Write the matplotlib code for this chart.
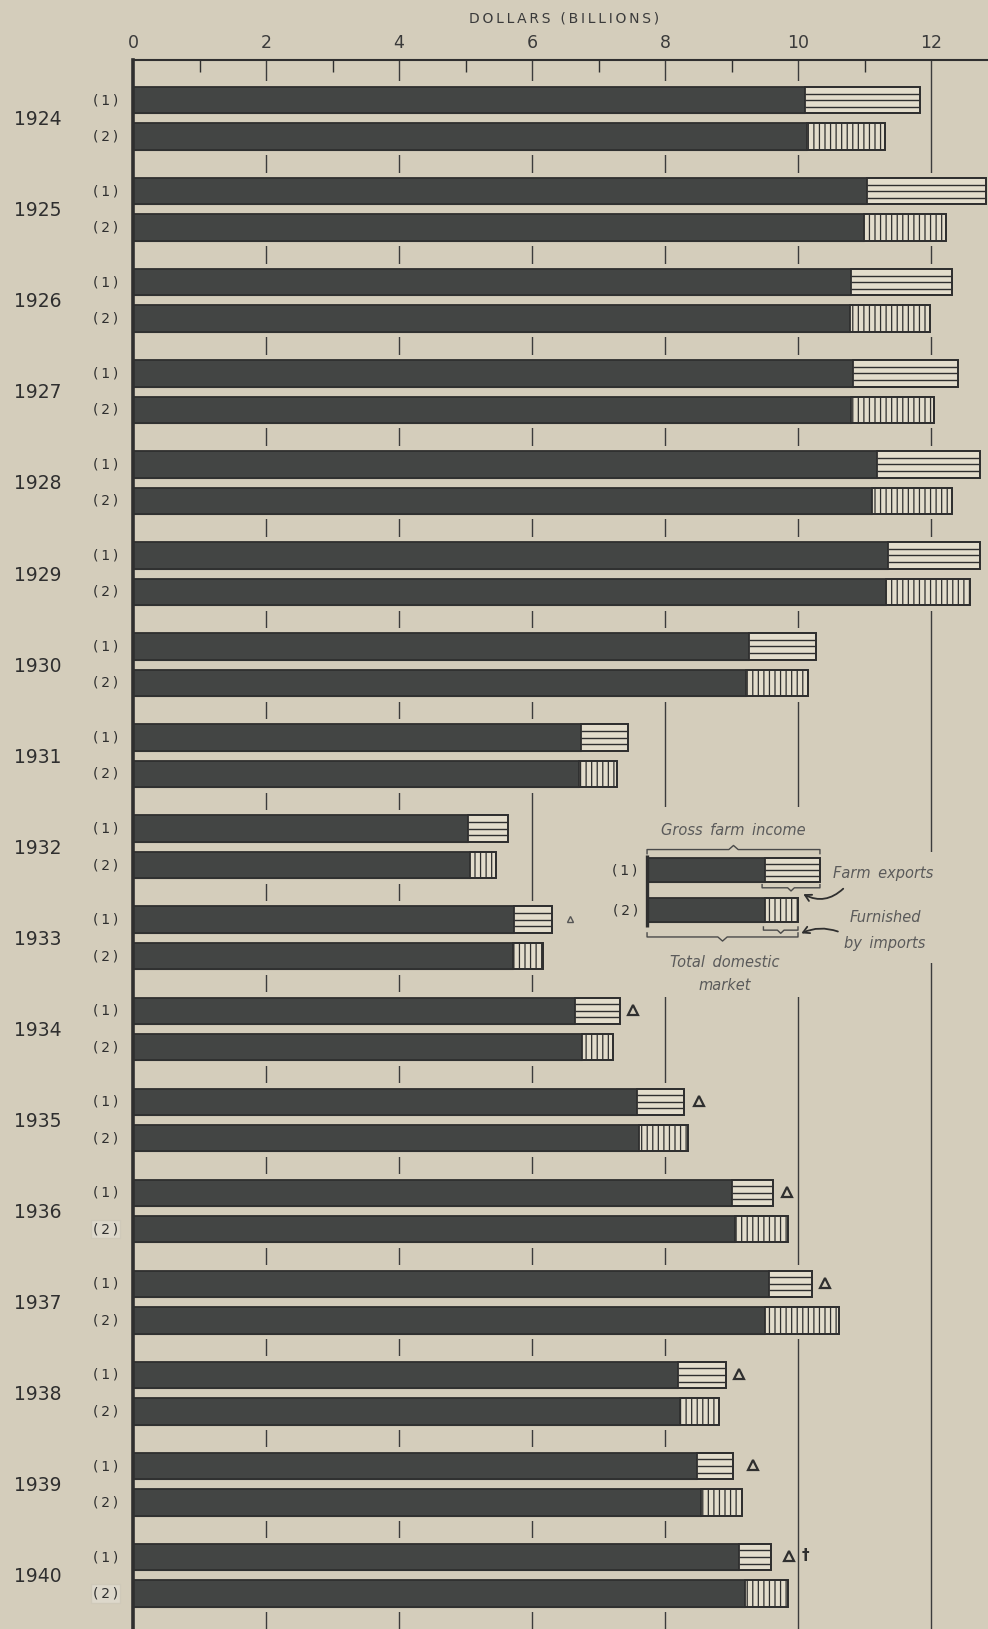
import matplotlib
matplotlib.use("Agg")
import matplotlib.pyplot as plt
from matplotlib.patches import Rectangle

# ---------------- data (billions of dollars) ----------------
years = ['1924', '1925', '1926', '1927', '1928', '1929', '1930', '1931', '1932',
         '1933', '1934', '1935', '1936', '1937', '1938', '1939', '1940']
# (1) gross farm income: domestic-consumed part + farm exports
dom_1 = [10.10, 11.04, 10.79, 10.83, 11.19, 11.35, 9.26, 6.73, 5.04,
         5.73, 6.64, 7.58, 9.01, 9.57, 8.19, 8.48, 9.12]
gross_1 = [11.84, 12.82, 12.32, 12.41, 12.74, 12.74, 10.27, 7.44, 5.64,
           6.30, 7.33, 8.28, 9.62, 10.21, 8.92, 9.02, 9.60]
# (2) total domestic market: domestic-produced part + furnished by imports
dom_2 = [10.13, 10.99, 10.78, 10.80, 11.11, 11.33, 9.22, 6.71, 5.07,
         5.71, 6.75, 7.61, 9.05, 9.51, 8.22, 8.54, 9.20]
total_2 = [11.31, 12.23, 11.99, 12.04, 12.31, 12.59, 10.15, 7.28, 5.46,
           6.17, 7.22, 8.35, 9.85, 10.62, 8.81, 9.16, 9.85]

# footnote markers on (1) bars
tri_years = ['1933', '1934', '1935', '1936', '1937', '1938', '1939', '1940']
tri_x = [6.57, 7.52, 8.51, 9.83, 10.41, 9.11, 9.32, 9.86]
dagger_year = '1940'
dagger_x = 10.11
boxed_labels = ['1936', '1940']

xticks_major = [0, 2, 4, 6, 8, 10, 12]
xticks_minor = [1, 3, 5, 7, 9, 11]

# legend example bar
leg_start, leg_dark, leg_gross, leg_total = 7.73, 9.50, 10.33, 10.00

# ---------------- style ----------------
BG = '#d4cdbb'
DARK = '#434544'
LIGHT = '#e3ddcc'
INK = '#2f2f2f'
GRAY = '#5a5a5a'
plt.rcParams['font.family'] = ['DejaVu Sans']
plt.rcParams['hatch.linewidth'] = 0.9
plt.rcParams['hatch.color'] = INK

W, Hpx = 988, 1629
fig = plt.figure(figsize=(W / 100, Hpx / 100), dpi=100)
fig.patch.set_facecolor(BG)
ax = fig.add_axes([133 / W, 0, 1 - 133 / W, 1 - 60 / Hpx])
ax.set_facecolor(BG)
ax.set_xlim(0, (W - 133) / 66.5)
ax.set_ylim(16.59, -0.641)

for s in ['right', 'bottom']:
    ax.spines[s].set_visible(False)
ax.spines['top'].set_linewidth(1.5)
ax.spines['top'].set_color(INK)
ax.spines['left'].set_linewidth(2.6)
ax.spines['left'].set_color(INK)

ax.xaxis.tick_top()
ax.set_xticks(xticks_major)
ax.set_xticklabels([str(v) for v in xticks_major])
ax.set_xticks(xticks_minor, minor=True)
ax.tick_params(axis='x', which='major', length=0, pad=6, labelsize=12.5, labelcolor='#3a3a3a')
ax.tick_params(axis='x', which='minor', direction='in', length=8.6, width=1.0, color=INK)
ax.set_yticks([])

# gridlines at even values
for v in xticks_major[1:]:
    ax.axvline(v, color='#3c3c3c', lw=1.0, zorder=0.5)

BH = 0.29
OFF = 0.2
PADY = 0.06
PADX = 0.05


def draw_bar(yc, x0, dark, tot, kind, h=BH, halo=True, z=2):
    if halo:
        ax.add_patch(Rectangle((x0, yc - h / 2 - PADY), tot - x0 + PADX, h + 2 * PADY,
                               facecolor=BG, edgecolor='none', zorder=1))
    ax.barh(yc, dark - x0, left=x0, height=h, color=DARK, edgecolor=DARK,
            linewidth=0.8, zorder=z)
    if kind == 'imp':
        ax.barh(yc, tot - dark, left=dark, height=h, facecolor=LIGHT, edgecolor=INK,
                hatch='|||', linewidth=1.3, zorder=z)
    else:
        ax.barh(yc, tot - dark, left=dark, height=h, facecolor=LIGHT, edgecolor=INK,
                linewidth=1.3, zorder=z)
        for k in (1, 2, 3):
            yy = yc - h / 2 + k * h / 4
            ax.plot([dark, tot], [yy, yy], color=INK, lw=1.0, zorder=z + 1,
                    solid_capstyle='butt')
    ax.add_patch(Rectangle((x0, yc - h / 2), tot - x0, h, facecolor='none',
                           edgecolor=INK, lw=1.3, zorder=z + 1))


lab_kw = dict(ha='center', va='center', clip_on=False, zorder=5)
for i, yr in enumerate(years):
    y1, y2 = i - OFF, i + OFF
    draw_bar(y1, 0, dom_1[i], gross_1[i], 'exp')
    draw_bar(y2, 0, dom_2[i], total_2[i], 'imp')
    ax.text(-1.43, i + 0.015, yr, fontsize=13.5, color=INK, **lab_kw)
    ax.text(-0.41, y1, '(\u20091\u2009)', fontsize=10, color=INK, **lab_kw)
    if yr in boxed_labels:
        ax.text(-0.41, y2, '(\u20092\u2009)', fontsize=10, color=INK,
                bbox=dict(facecolor='#ddd8cb', edgecolor='#cfc9b9', pad=1.5), **lab_kw)
    else:
        ax.text(-0.41, y2, '(\u20092\u2009)', fontsize=10, color=INK, **lab_kw)

for yr, tx in zip(tri_years, tri_x):
    i = years.index(yr)
    small = (yr == '1933')
    ax.plot(tx, i - OFF - 0.01, marker='^', markersize=5 if small else 7.5,
            mfc='none', mec='#555555' if small else INK, mew=1.0 if small else 1.6,
            zorder=5, clip_on=False)
i40 = years.index(dagger_year)
ax.text(dagger_x, i40 - OFF - 0.02, '\u2020', fontsize=11, fontweight='bold',
        color=INK, ha='center', va='center', zorder=5)

# ---------------- legend inset ----------------
# mask gridlines behind the legend
ax.add_patch(Rectangle((7.2, 7.56), 3.8, 2.09, facecolor=BG, edgecolor='none', zorder=1.5))
ax.add_patch(Rectangle((11.0, 8.06), 1.3, 1.22, facecolor=BG, edgecolor='none', zorder=1.5))

LH = 0.27
ly1, ly2 = 8.256, 8.695
draw_bar(ly1, leg_start, leg_dark, leg_gross, 'exp', h=LH, halo=False, z=3)
draw_bar(ly2, leg_start, leg_dark, leg_total, 'imp', h=LH, halo=False, z=3)
ax.plot([leg_start, leg_start], [8.09, 8.88], color=INK, lw=2.4, zorder=5,
        solid_capstyle='butt')
ax.text(7.40, ly1, '(\u20091\u2009)', fontsize=10, color=INK, ha='center', va='center', zorder=5)
ax.text(7.40, ly2, '(\u20092\u2009)', fontsize=10, color=INK, ha='center', va='center', zorder=5)


def brace(x0, x1, y, d, w=0.07, lw=1.0):
    xm = (x0 + x1) / 2
    xs = [x0, x0, xm - w, xm, xm + w, x1, x1]
    ys = [y + d, y, y, y - d, y, y, y + d]
    ax.plot(xs, ys, color='#4a4a4a', lw=lw, zorder=5, solid_joinstyle='round')


brace(leg_start, leg_gross, 8.03, 0.045)
brace(leg_dark - 0.04, leg_gross, 8.45, -0.035, w=0.05)
brace(leg_dark - 0.02, leg_total, 8.915, -0.035, w=0.05)
brace(leg_start, leg_total, 8.99, -0.045)

it_kw = dict(fontsize=10.5, fontstyle='italic', color=GRAY, zorder=5)
ax.text(9.02, 7.82, 'Gross\u2009 farm\u2009 income', ha='center', va='center', **it_kw)
ax.text(10.53, 8.29, 'Farm\u2009 exports', ha='left', va='center', **it_kw)
ax.text(11.31, 8.78, 'Furnished', ha='center', va='center', **it_kw)
ax.text(11.31, 9.06, 'by\u2009 imports', ha='center', va='center', **it_kw)
ax.text(8.90, 9.27, 'Total\u2009 domestic', ha='center', va='center', **it_kw)
ax.text(8.90, 9.52, 'market', ha='center', va='center', **it_kw)

arr = dict(arrowstyle='->,head_length=0.45,head_width=0.25', color=INK, lw=1.3,
           shrinkA=0, shrinkB=0)
ax.annotate('', xy=(10.08, 8.52), xytext=(10.68, 8.46),
            arrowprops=dict(connectionstyle='arc3,rad=-0.35', **arr), zorder=5)
ax.annotate('', xy=(10.05, 8.95), xytext=(10.60, 8.93),
            arrowprops=dict(connectionstyle='arc3,rad=0.2', **arr), zorder=5)

# axis title
fig.text(564 / W, 1 - 18 / Hpx, '\u2009'.join('DOLLARS (BILLIONS)'), ha='center',
         va='center', fontsize=10, color='#3a3a3a')

fig.savefig('out.png', dpi=100, facecolor=BG)
